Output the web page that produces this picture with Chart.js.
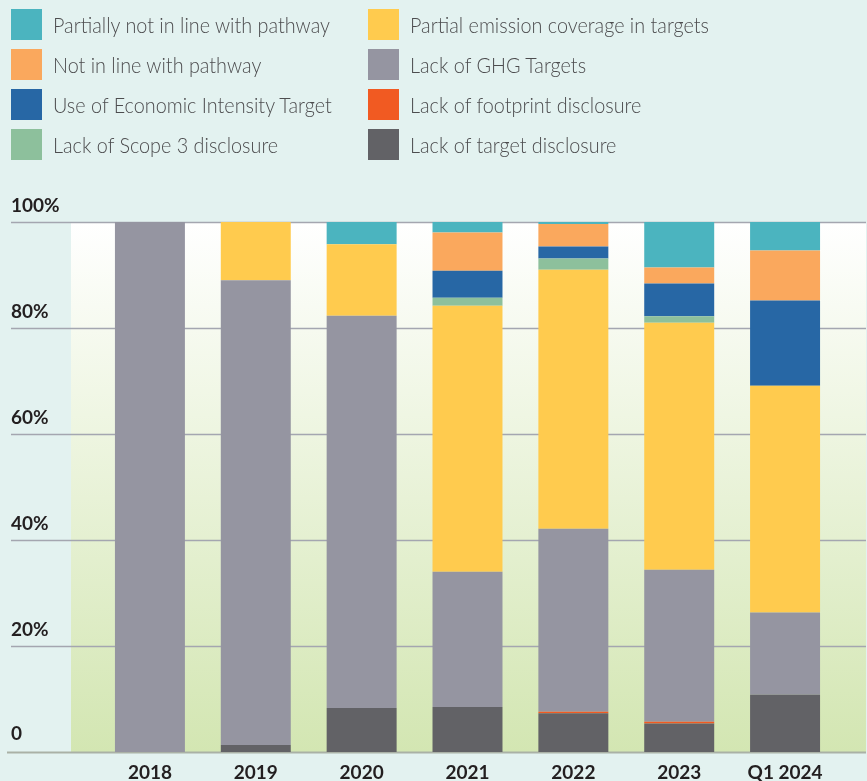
<!DOCTYPE html>
<html>
<head>
<meta charset="utf-8">
<script src="https://cdn.jsdelivr.net/npm/chart.js@4.4.1/dist/chart.umd.min.js"></script>
<style>
  html, body { margin: 0; padding: 0; background: #e3f2f0; }
  #wrap { position: relative; width: 867px; height: 781px; overflow: hidden; }
  #legend { position: absolute; left: 0; top: 0; width: 867px; height: 170px; }
  .item { position: absolute; height: 31px; display: flex; align-items: center; }
  .swatch { width: 31px; height: 31px; flex: none; }
  .label { margin-left: 11px; font-family: Lato, sans-serif; font-weight: 300; font-size: 22px;
           color: #4d4d4f; white-space: nowrap; transform-origin: left center; display: inline-block; }
</style>
</head>
<body>
<div id="wrap">
  <canvas id="chart" width="867" height="781"></canvas>
  <div id="legend"></div>
</div>
<script>
// Categorias e séries (valores em %)
const years = ["2018", "2019", "2020", "2021", "2022", "2023", "Q1 2024"];
const yTickLabels = ["0", "20%", "40%", "60%", "80%", "100%"];

const lackTargetDisclosure = [0, 1.3, 8.3, 8.5, 7.3, 5.4, 10.8];
const lackFootprint = [0, 0, 0, 0, 0.3, 0.3, 0];
const lackGhgTargets = [100, 87.7, 74.0, 25.5, 34.5, 28.7, 15.5];
const partialCoverage = [0, 11.0, 13.5, 50.2, 48.9, 46.6, 42.8];
const lackScope3 = [0, 0, 0, 1.5, 2.1, 1.2, 0];
const economicIntensity = [0, 0, 0, 5.1, 2.3, 6.2, 16.1];
const notInLine = [0, 0, 0, 7.2, 4.2, 3.0, 9.4];
const partiallyNotInLine = [0, 0, 4.2, 2.0, 0.4, 8.6, 5.4];

// Ordem de empilhamento: de baixo para cima
const datasets = [
  { label: "Lack of target disclosure", data: lackTargetDisclosure, backgroundColor: "#626266" },
  { label: "Lack of footprint disclosure", data: lackFootprint, backgroundColor: "#f15a22" },
  { label: "Lack of GHG Targets", data: lackGhgTargets, backgroundColor: "#9595a1" },
  { label: "Partial emission coverage in targets", data: partialCoverage, backgroundColor: "#ffcb4e" },
  { label: "Lack of Scope 3 disclosure", data: lackScope3, backgroundColor: "#8dc09c" },
  { label: "Use of Economic Intensity Target", data: economicIntensity, backgroundColor: "#2767a5" },
  { label: "Not in line with pathway", data: notInLine, backgroundColor: "#faa85d" },
  { label: "Partially not in line with pathway", data: partiallyNotInLine, backgroundColor: "#4bb4bf" }
];

// Ordem da legenda (duas colunas)
const legendCol1 = ["Partially not in line with pathway", "Not in line with pathway",
                    "Use of Economic Intensity Target", "Lack of Scope 3 disclosure"];
const legendCol2 = ["Partial emission coverage in targets", "Lack of GHG Targets",
                    "Lack of footprint disclosure", "Lack of target disclosure"];

function buildLegend() {
  const box = document.getElementById("legend");
  const cols = [{ names: legendCol1, x: 11 }, { names: legendCol2, x: 368 }];
  const labels = [];
  cols.forEach(col => {
    col.names.forEach((name, i) => {
      const ds = datasets.find(d => d.label === name);
      const item = document.createElement("div");
      item.className = "item";
      item.style.left = col.x + "px";
      item.style.top = (9 + i * 40) + "px";
      item.innerHTML = `<span class="swatch" style="background:${ds.backgroundColor}"></span>` +
                       `<span class="label">${name}</span>`;
      box.appendChild(item);
      labels.push(item.querySelector(".label"));
    });
  });
  // fonte condensada: ajusta a largura do primeiro rótulo (~277px)
  const k = 277 / labels[0].getBoundingClientRect().width;
  labels.forEach(l => l.style.transform = `scaleX(${k})`);
}

// Fundo, faixa em degradê, grades e rótulos do eixo Y
const backdrop = {
  id: "backdrop",
  beforeDraw(chart) {
    const { ctx, scales: { y } } = chart;
    const top = y.getPixelForValue(100);
    const bottom = y.getPixelForValue(0);
    ctx.save();
    ctx.fillStyle = "#e3f2f0";
    ctx.fillRect(0, 0, chart.width, chart.height);
    const g = ctx.createLinearGradient(0, top, 0, bottom);
    g.addColorStop(0, "#ffffff");
    g.addColorStop(1, "#d3e6b2");
    ctx.fillStyle = g;
    ctx.fillRect(71, top, 866 - 71, bottom - top);
    ctx.restore();
  },
  beforeDatasetsDraw(chart) {
    const { ctx, scales: { y } } = chart;
    ctx.save();
    y.ticks.forEach(t => {
      const py = Math.round(y.getPixelForValue(t.value)) + 0.5;
      ctx.beginPath();
      ctx.strokeStyle = t.value === 0 ? "#aab1a6" : "#a4a6b0";
      ctx.lineWidth = t.value === 0 ? 2 : 1.5;
      ctx.moveTo(t.value === 0 ? 7 : 11, py);
      ctx.lineTo(866, py);
      ctx.stroke();
      ctx.fillStyle = "#231f20";
      ctx.font = "700 19px Lato, sans-serif";
      ctx.textAlign = "left";
      ctx.textBaseline = "alphabetic";
      ctx.fillText(t.label, 11, py - (t.value === 0 ? 13 : 11));
    });
    ctx.restore();
  }
};

document.addEventListener("DOMContentLoaded", () => {
  buildLegend();
  new Chart(document.getElementById("chart"), {
    type: "bar",
    data: { labels: years, datasets },
    options: {
      responsive: false,
      animation: false,
      layout: { padding: { left: 97, right: 29, top: 222, bottom: -12 } },
      datasets: { bar: { categoryPercentage: 1, barPercentage: 0.661, borderWidth: 0 } },
      scales: {
        x: {
          stacked: true,
          grid: { display: false, drawTicks: false },
          border: { display: false },
          ticks: { color: "#231f20", padding: 11, font: { family: "Lato", weight: "700", size: 19, lineHeight: 1 } }
        },
        y: {
          stacked: true,
          display: false,
          min: 0,
          max: 100,
          ticks: { stepSize: 20, callback: (v) => yTickLabels[v / 20] }
        }
      },
      plugins: { legend: { display: false }, tooltip: { enabled: false } }
    },
    plugins: [backdrop]
  });
});
</script>
</body>
</html>
